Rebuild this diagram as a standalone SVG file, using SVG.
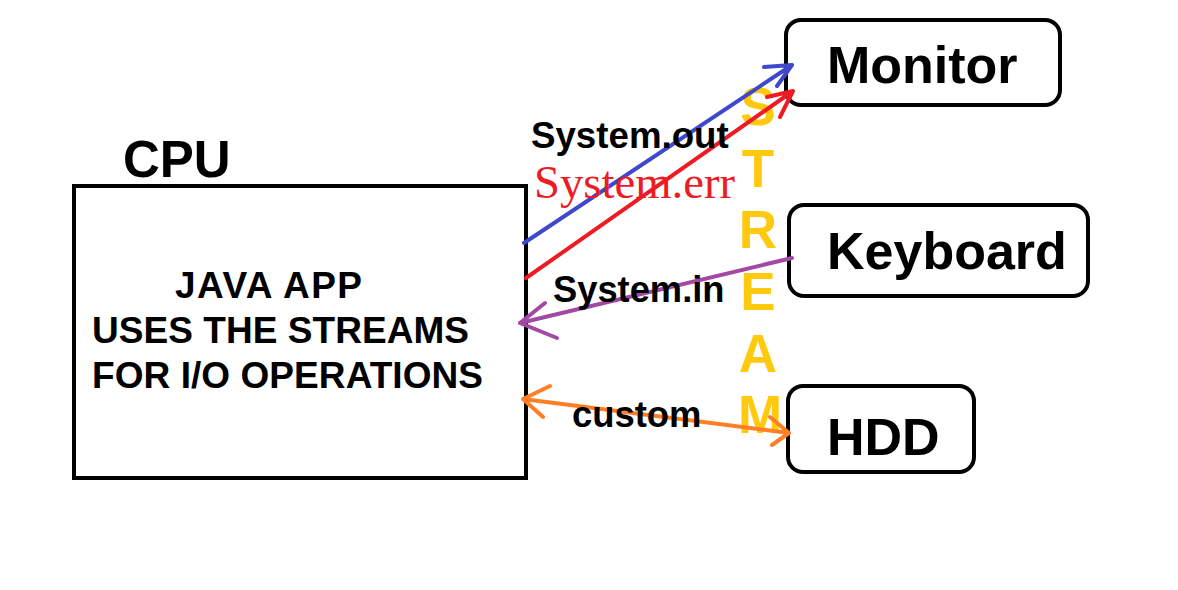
<svg xmlns="http://www.w3.org/2000/svg" width="1178" height="590" viewBox="0 0 1178 590">
<style>
.box{fill:none;stroke:#000;stroke-width:4}
.t{font-family:"Liberation Sans",Arial,sans-serif;font-weight:bold;fill:#000}
.st{font-family:"Liberation Sans",Arial,sans-serif;font-weight:bold;fill:#ffc90e;font-size:53px;text-anchor:middle}
.c{fill:none;stroke-width:4;stroke-linecap:round;stroke-linejoin:round}
</style>
<rect width="1178" height="590" fill="#fff"/>
<g id="cpu">
<text class="t" x="123" y="177" font-size="51">CPU</text>
<rect class="box" x="74" y="186" width="452" height="292"/>
<text class="t" x="175" y="298" font-size="37" textLength="187" lengthAdjust="spacing">JAVA APP</text>
<text class="t" x="92" y="343" font-size="37" textLength="377" lengthAdjust="spacing">USES THE STREAMS</text>
<text class="t" x="92" y="388" font-size="37" textLength="391" lengthAdjust="spacing">FOR I/O OPERATIONS</text>
</g>
<g id="monitor">
<rect class="box" x="786" y="20" width="274" height="85" rx="15"/>
<text class="t" x="827" y="83" font-size="52">Monitor</text>
</g>
<g id="keyboard">
<rect class="box" x="789" y="205" width="299" height="91" rx="15"/>
<text class="t" x="827" y="269" font-size="52">Keyboard</text>
</g>
<g id="hdd">
<rect class="box" x="788" y="386" width="186" height="86" rx="15"/>
<text class="t" x="827" y="455" font-size="52">HDD</text>
</g>
<g id="stream">
<text class="st" x="758" y="125">S</text>
<text class="st" x="758" y="187">T</text>
<text class="st" x="758" y="248">R</text>
<text class="st" x="758" y="310">E</text>
<text class="st" x="758" y="372">A</text>
<text class="st" x="760" y="433">M</text>
</g>
<g id="connectors">
<path class="c" stroke="#3f48cc" d="M524 243 L792 65 M764 67 L792 65 L777 86"/>
<path class="c" stroke="#ed1c24" d="M526 278 L793 91 M767 97 L793 91 L780 117"/>
<path class="c" stroke="#a349a4" d="M792 258 L520 323 M545 303 L520 323 L557 338"/>
<path class="c" stroke="#ff7f27" d="M523 399 L789 433 M550 386 L523 399 L543 417 M770 417 L789 433 L772 445"/>
</g>
<g id="labels">
<text class="t" x="531" y="148" font-size="36.7">System.out</text>
<text x="534" y="198" font-size="46.7" fill="#ed1c24" font-family="'Liberation Serif','Times New Roman',serif">System.err</text>
<text class="t" x="553" y="302" font-size="36.3">System.in</text>
<text class="t" x="572" y="427" font-size="36.4">custom</text>
</g>
</svg>
